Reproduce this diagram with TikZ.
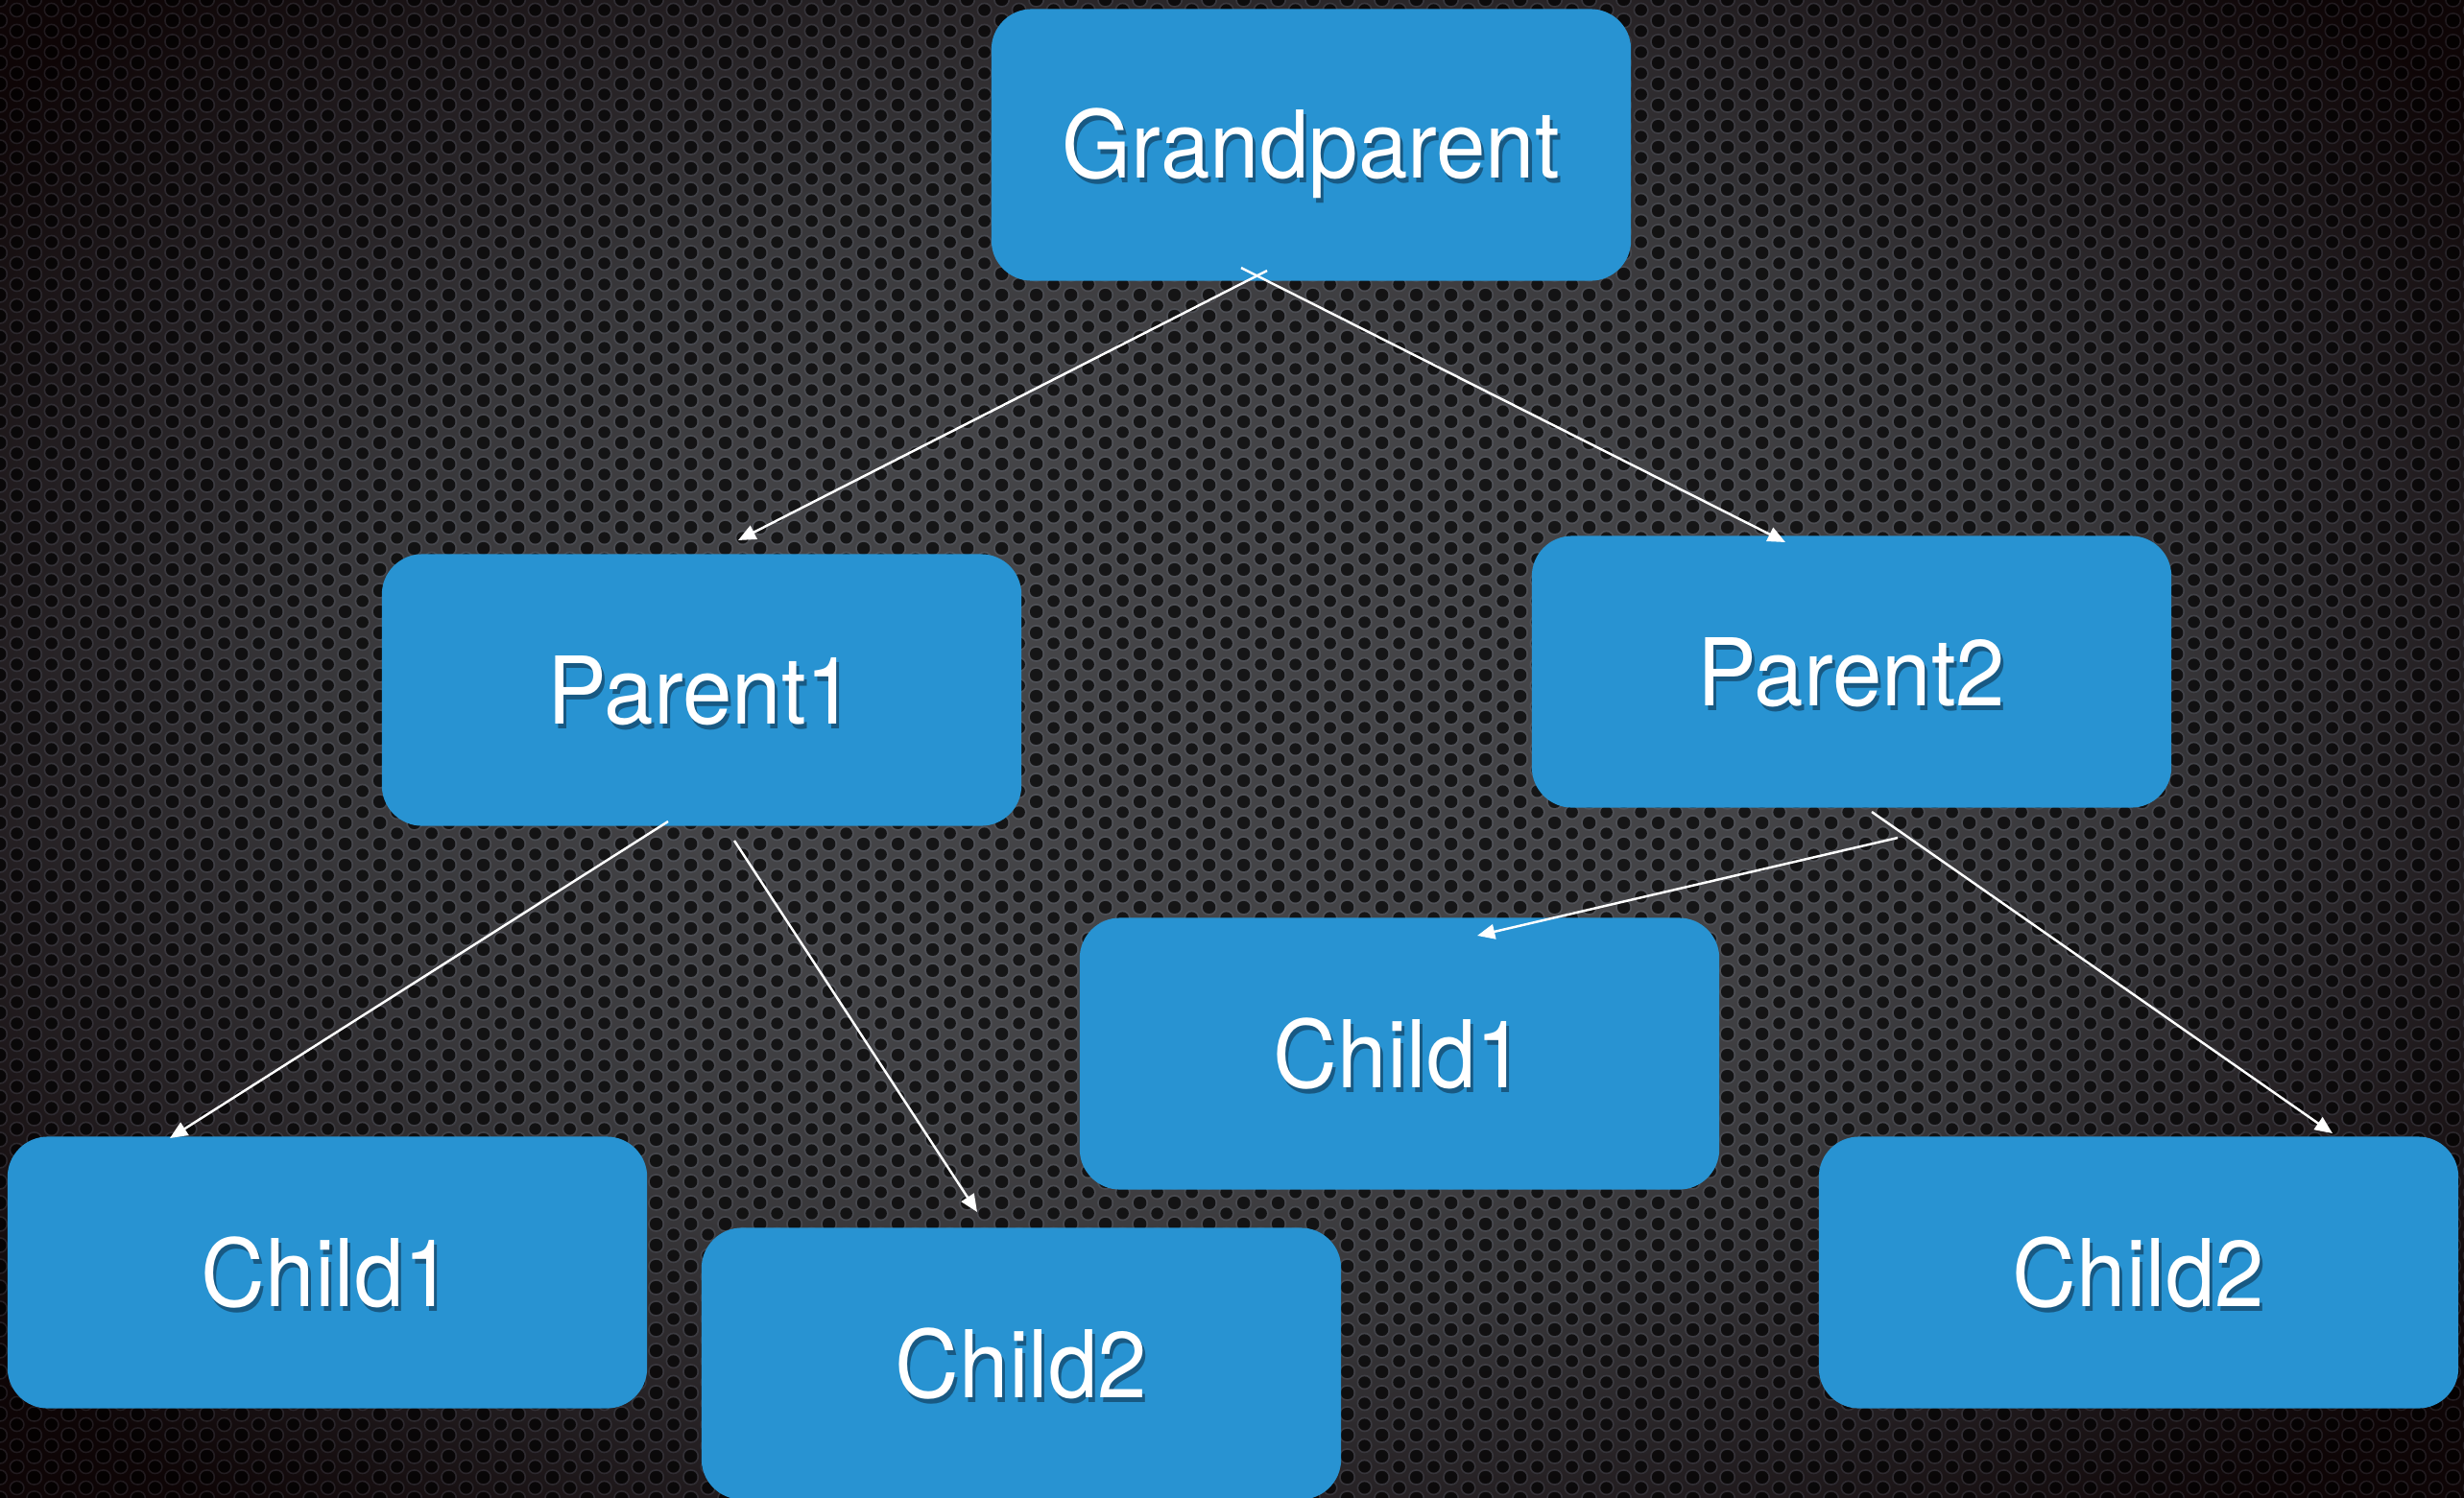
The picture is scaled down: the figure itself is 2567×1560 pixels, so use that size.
\documentclass[tikz,border=0pt]{standalone}
\usepackage{fontspec}
\setmainfont{TeX Gyre Heros}[FakeStretch=0.95]
\usetikzlibrary{arrows.meta,patterns.meta,calc}

% palette
\definecolor{boxblue}{RGB}{40,147,210}
\definecolor{metalA}{RGB}{68,68,71}
\definecolor{metalB}{RGB}{56,55,58}
\definecolor{metalC}{RGB}{35,30,33}
\definecolor{metalD}{RGB}{14,5,6}
\definecolor{rimcol}{RGB}{150,165,190}
\definecolor{shadowcol}{RGB}{5,20,35}

% darkening towards the corners (the filled path spans 25bp from its centre)
\pgfdeclareradialshading{vignette}{\pgfpoint{0bp}{0bp}}{%
  color(0bp)=(metalA); color(8bp)=(metalA); color(14bp)=(metalB);
  color(19bp)=(metalC); color(24bp)=(metalD); color(50bp)=(metalD)}

% perforated sheet: staggered holes and their rims
\tikzdeclarepattern{
  name=holes,
  type=uncolored,
  bottom left={(0pt,0pt)},
  top right={(10.13pt,6.26pt)},
  tile size={(10.13pt,6.26pt)},
  code={
    \fill (0pt,0pt) circle [radius=1.79pt];
    \fill (10.13pt,0pt) circle [radius=1.79pt];
    \fill (0pt,6.26pt) circle [radius=1.79pt];
    \fill (10.13pt,6.26pt) circle [radius=1.79pt];
    \fill (5.065pt,3.13pt) circle [radius=1.79pt];
  }
}
\tikzdeclarepattern{
  name=rims,
  type=uncolored,
  bottom left={(0pt,0pt)},
  top right={(10.13pt,6.26pt)},
  tile size={(10.13pt,6.26pt)},
  code={
    \draw[line width=0.45pt] (0pt,0pt) circle [radius=2.1pt];
    \draw[line width=0.45pt] (10.13pt,0pt) circle [radius=2.1pt];
    \draw[line width=0.45pt] (0pt,6.26pt) circle [radius=2.1pt];
    \draw[line width=0.45pt] (10.13pt,6.26pt) circle [radius=2.1pt];
    \draw[line width=0.45pt] (5.065pt,3.13pt) circle [radius=2.1pt];
  }
}

\begin{document}
\begin{tikzpicture}[
  x=0.01cm, y=-0.01cm,
  box/.style={fill=boxblue, draw=none, rounded corners=0.42cm,
    minimum width=6.66cm, minimum height=2.83cm, inner sep=0pt},
  lbl/.style={text=white, font=\fontsize{27.7pt}{30pt}\selectfont,
    text height=19.9pt, text depth=0pt, inner sep=0pt},
  lblshadow/.style={lbl, text=shadowcol, text opacity=0.45},
  link/.style={draw=white, line width=0.7pt,
    -{Triangle[length=5.2pt,width=4.4pt]}}
]
\useasboundingbox (0,0) rectangle (2567,1560);
\clip (0,0) rectangle (2567,1560);

% background sheet
\shade[shading=vignette] (-420,-340) rectangle (2980,1860);
\fill[pattern=rims, pattern color=rimcol, fill opacity=0.14] (0,0) rectangle (2567,1560);
\fill[pattern=holes, pattern color=black, fill opacity=0.68] (0,0) rectangle (2567,1560);

% boxes
\node[box] (gp)  at (1366,151)  {};
\node[box] (p1)  at (731,719)   {};
\node[box] (p2)  at (1929,700)  {};
\node[box] (c1r) at (1458,1098) {};
\node[box] (c1l) at (341,1326)  {};
\node[box] (c2m) at (1064,1421) {};
\node[box] (c2r) at (2228,1326) {};

% labels with a drop shadow
\foreach \n/\t in {gp/Grandparent, p1/Parent1, p2/Parent2, c1r/Child1,
                   c1l/Child1, c2m/Child2, c2r/Child2} {
  \node[lblshadow] at ($(\n.center)+(3,5)$) {\t};
  \node[lbl] (\n-text) at (\n.center) {\t};
}

% connector ends
\coordinate (gpL)  at (1320,282);
\coordinate (gpR)  at (1293,279);
\coordinate (p1in) at (769,563);
\coordinate (p2in) at (1860,565);
\coordinate (p1L)  at (696,856);
\coordinate (p1R)  at (765,876);
\coordinate (c1lin) at (177,1186);
\coordinate (c2min) at (1018,1263);
\coordinate (p2L)  at (1977,873);
\coordinate (p2R)  at (1950,846);
\coordinate (c1rin) at (1539,975);
\coordinate (c2rin) at (2430,1181);

% connectors
\draw[link] (gpL) -- (p1in);
\draw[link] (gpR) -- (p2in);
\draw[link] (p1L) -- (c1lin);
\draw[link] (p1R) -- (c2min);
\draw[link] (p2L) -- (c1rin);
\draw[link] (p2R) -- (c2rin);
\end{tikzpicture}
\end{document}
